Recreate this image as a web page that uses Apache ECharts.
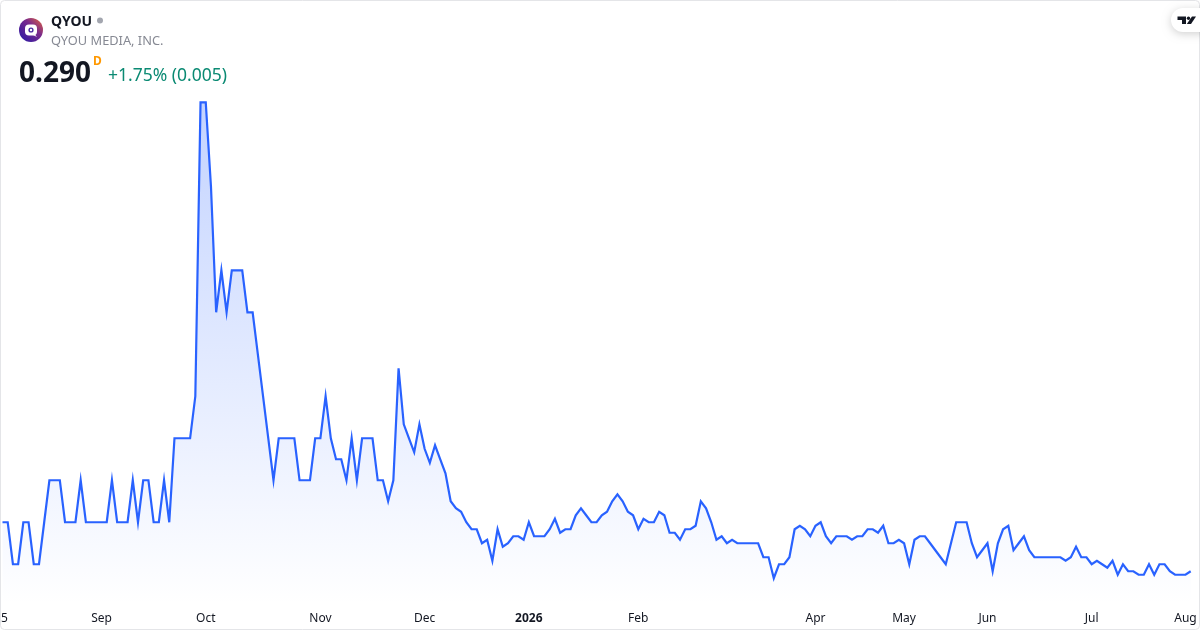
<!DOCTYPE html>
<html><head><meta charset="utf-8">
<style>html,body{margin:0;padding:0;background:#fff}#c{width:1200px;height:630px}</style>
<script src="https://cdn.jsdelivr.net/npm/echarts@6/dist/echarts.min.js"></script>
</head><body><div id="c"></div>
<script>
const prices = [
0.43,0.43,0.31,0.31,0.43,0.43,0.31,0.31,0.43,0.55,
0.55,0.55,0.43,0.43,0.43,0.55,0.43,0.43,0.43,0.43,
0.43,0.55,0.43,0.43,0.43,0.55,0.43,0.55,0.55,0.43,
0.43,0.55,0.43,0.67,0.67,0.67,0.67,0.79,1.63,1.63,
1.39,1.03,1.15,1.03,1.15,1.15,1.15,1.03,1.03,0.91,
0.79,0.67,0.55,0.67,0.67,0.67,0.67,0.55,0.55,0.55,
0.67,0.67,0.79,0.67,0.61,0.61,0.55,0.67,0.55,0.67,
0.67,0.67,0.55,0.55,0.49,0.55,0.87,0.71,0.67,0.63,
0.71,0.64,0.60,0.65,0.61,0.57,0.49,0.47,0.46,0.43,
0.41,0.41,0.37,0.38,0.32,0.41,0.36,0.37,0.39,0.39,
0.38,0.43,0.39,0.39,0.39,0.41,0.44,0.40,0.41,0.41,
0.45,0.47,0.45,0.43,0.43,0.45,0.46,0.49,0.51,0.49,
0.46,0.45,0.41,0.44,0.43,0.43,0.46,0.45,0.40,0.40,
0.38,0.41,0.41,0.42,0.49,0.47,0.43,0.38,0.39,0.37,
0.38,0.37,0.37,0.37,0.37,0.37,0.33,0.33,0.27,0.31,
0.31,0.33,0.41,0.42,0.41,0.39,0.42,0.43,0.39,0.37,
0.39,0.39,0.39,0.38,0.39,0.39,0.41,0.41,0.40,0.42,
0.37,0.37,0.38,0.37,0.31,0.38,0.39,0.39,0.37,0.35,
0.33,0.31,0.37,0.43,0.43,0.43,0.37,0.33,0.35,0.37,
0.29,0.37,0.41,0.42,0.35,0.37,0.39,0.35,0.33,0.33,
0.33,0.33,0.33,0.33,0.32,0.33,0.36,0.33,0.33,0.31,
0.32,0.31,0.30,0.32,0.28,0.31,0.29,0.29,0.28,0.28,
0.31,0.28,0.31,0.31,0.29,0.28,0.28,0.28,0.29];
const tickLabels = ['5','Sep','Oct','Nov','Dec','2026','Feb','Apr','May','Jun','Jul','Aug'];
const tickBars   = [0,19,39,61,81,101,122,156,173,189,209,227];
const symbol = 'QYOU';
const company = 'QYOU MEDIA, INC.';
const lastPrice = '0.290';
const change = '+1.75% (0.005)';

const categories = prices.map((_, i) => {
  const k = tickBars.indexOf(i);
  return k >= 0 ? tickLabels[k] : '';
});
const FONT = '"Noto Sans", "Open Sans", sans-serif';
const chart = echarts.init(document.getElementById('c'), null, {renderer:'canvas'});
chart.setOption({
  animation:false,
  backgroundColor:'#fff',
  grid:{left:2.5,right:9.3,top:50.5,height:554,containLabel:false,outerBoundsMode:'none'},
  tooltip:{show:false},
  xAxis:{type:'category',boundaryGap:false,data:categories,
    axisLine:{show:false},axisTick:{show:false},splitLine:{show:false},
    axisLabel:{
      interval:(i)=>tickBars.includes(i),
      margin:8.5,color:'#131722',fontFamily:FONT,fontSize:12,
      hideOverlap:false,showMinLabel:true,showMaxLabel:true,
      formatter:(v)=>{
        if(v==='2026') return '{b|2026}';
        if(v==='5') return '{p|5}';
        return v;
      },
      rich:{
        b:{fontWeight:'bold',fontFamily:FONT,fontSize:12,color:'#131722'},
        p:{fontFamily:FONT,fontSize:12,color:'#131722',padding:[0,0,0,4]}
      }
    }},
  yAxis:{type:'value',min:0.195,max:1.778,show:false,splitLine:{show:false}},
  series:[{
    type:'line',data:prices,showSymbol:false,smooth:false,
    lineStyle:{color:'#2962ff',width:2.2,join:'miter'},
    itemStyle:{color:'#2962ff'},
    areaStyle:{origin:'start',opacity:1,color:new echarts.graphic.LinearGradient(0,0,0,1,[
      {offset:0,color:'rgba(41,98,255,0.28)'},
      {offset:1,color:'rgba(41,98,255,0)'}
    ])}
  }],
  graphic:{elements:[
    {type:'rect',shape:{x:0.5,y:0.5,width:1199,height:629,r:4},z:100,silent:true,
      style:{fill:'none',stroke:'#e4e5e8',lineWidth:1}},
    {type:'circle',shape:{cx:31,cy:30,r:12},z:101,
      style:{fill:new echarts.graphic.LinearGradient(1,0,0,1,[
        {offset:0,color:'#e8663a'},{offset:0.4,color:'#7a2a8c'},{offset:1,color:'#2418a8'}])}},
    {type:'rect',shape:{x:25,y:24.5,width:12,height:11,r:4},z:102,style:{fill:'#fff'}},
    {type:'circle',shape:{cx:31,cy:30,r:2.6},z:103,style:{fill:'#4a2ba0'}},
    {type:'circle',shape:{cx:31,cy:30,r:1.2},z:104,style:{fill:'#fff'}},
    {type:'polygon',shape:{points:[[32,32],[35,34.5],[37,37],[33,35]]},z:102,style:{fill:'#fff'}},
    {type:'text',x:51,y:22,z:101,style:{text:symbol,font:'bold 14px "Noto Sans"',fill:'#131722',textVerticalAlign:'middle'}},
    {type:'circle',shape:{cx:100,cy:20.5,r:3},z:101,style:{fill:'#a3a6af'}},
    {type:'text',x:51,y:41.5,z:101,style:{text:company,font:'12.8px "Noto Sans"',fill:'#868993',textVerticalAlign:'middle'}},
    {type:'text',x:19,y:74,z:101,style:{text:lastPrice,font:'bold 28px "Noto Sans"',fill:'#131722',textVerticalAlign:'middle'}},
    {type:'text',x:93,y:62,z:101,style:{text:'D',font:'bold 12px "Noto Sans"',fill:'#ff9800',textVerticalAlign:'middle'}},
    {type:'text',x:108,y:76,z:101,style:{text:change,font:'17.5px "Noto Sans"',fill:'#0b8a73',textVerticalAlign:'middle'}},
    {type:'rect',shape:{x:1171,y:8,width:40,height:24,r:12},z:101,
      style:{fill:'#fff',shadowBlur:8,shadowColor:'rgba(0,0,0,0.18)',shadowOffsetY:2}},
    {type:'polygon',shape:{points:[[1177.5,16.5],[1186,16.5],[1186,24],[1182,24],[1182,20],[1177.5,20]]},z:102,style:{fill:'#131722'}},
    {type:'circle',shape:{cx:1188.5,cy:18.2,r:1.7},z:102,style:{fill:'#131722'}},
    {type:'polygon',shape:{points:[[1192,16.5],[1196,16.5],[1191,24],[1186.8,24]]},z:102,style:{fill:'#131722'}}
  ]}
});
</script></body></html>
